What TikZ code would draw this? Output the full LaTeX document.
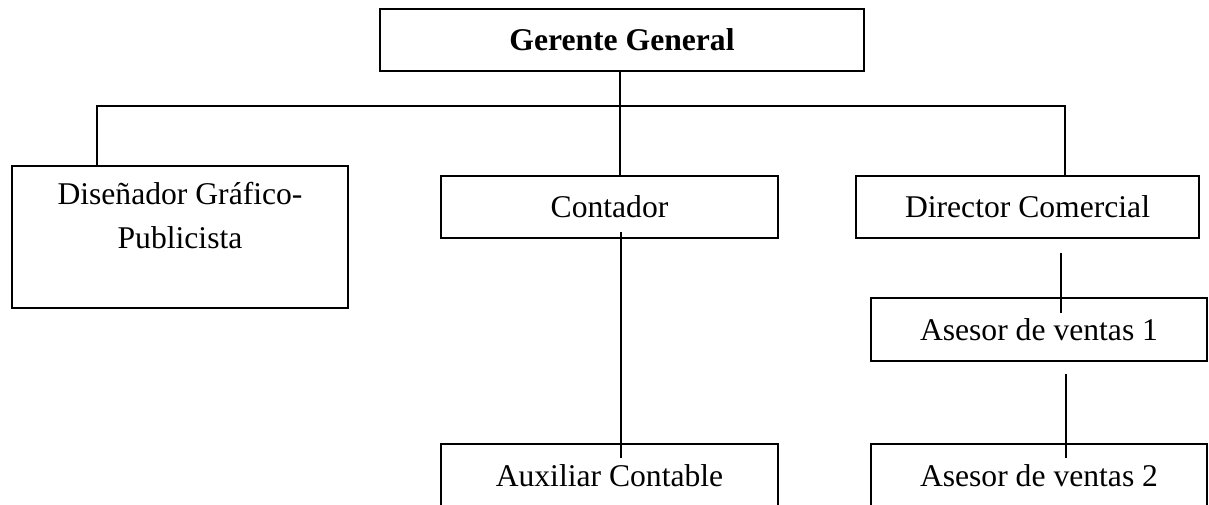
\documentclass[tikz,border=0pt]{standalone}
\usepackage{fontspec}
\setmainfont{Liberation Serif}
\usepackage{tikz}

\begin{document}
\begin{tikzpicture}[x=0.02cm,y=-0.02cm,
    orgbox/.style={draw,line width=1.1pt,minimum width=6.72cm,minimum height=1.24cm,inner sep=0pt,
      align=center,font=\fontsize{18}{25.5}\selectfont},
    link/.style={line width=1.1pt}]
\clip (0,0) rectangle (1209,504);
\node[orgbox,minimum width=9.68cm,font=\fontsize{18}{25.5}\selectfont\bfseries] (gerente) at (622,40) {Gerente General};
\node[orgbox,minimum height=2.84cm] (disenador) at (180,237) {Diseñador Gráfico-\\Publicista\\[-0.3cm]\strut};
\node[orgbox,minimum width=6.74cm] (contador) at (609.5,207) {Contador};
\node[orgbox,minimum width=6.86cm] (director) at (1027.5,207) {Director Comercial};
\node[orgbox,minimum height=1.26cm] (asesor1) at (1039,329.5) {Asesor de ventas 1};
\node[orgbox,minimum width=6.74cm,minimum height=1.26cm] (auxiliar) at (609.5,475.5) {Auxiliar Contable};
\node[orgbox,minimum height=1.26cm] (asesor2) at (1039,475.5) {Asesor de ventas 2};
% bus from the top
\coordinate (busL) at (97,106);
\coordinate (busR) at (1065,106);
\draw[link] (gerente.south -| 620,0) -- (contador.north -| 620,0);
\draw[link] (disenador.north -| busL) -- (busL) -- (busR) -- (director.north -| busR);
% floating lines
\coordinate (c1) at (621,232);
\coordinate (c2) at (621,458);
\coordinate (d1) at (1061,253);
\coordinate (d2) at (1061,313);
\coordinate (a1) at (1066,374);
\coordinate (a2) at (1066,458);
\draw[link] (c1) -- (c2);
\draw[link] (d1) -- (d2);
\draw[link] (a1) -- (a2);
\end{tikzpicture}
\end{document}
